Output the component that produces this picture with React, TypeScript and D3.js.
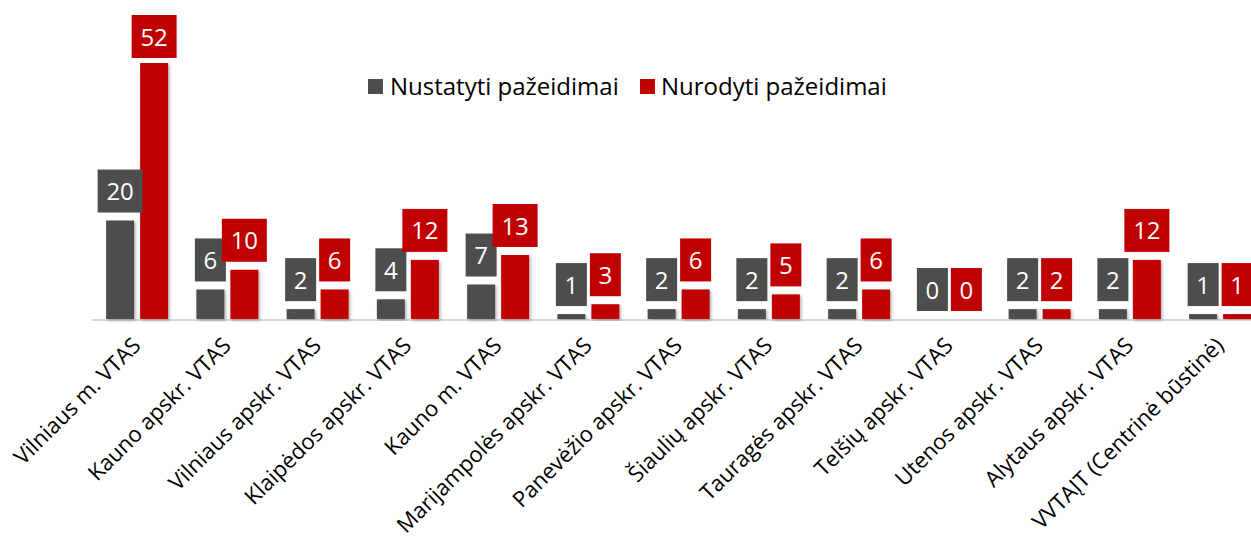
import * as d3 from "d3";
import React from "react";

// data
const categories = [
  "Vilniaus m. VTAS",
  "Kauno apskr. VTAS",
  "Vilniaus apskr. VTAS",
  "Klaipėdos apskr. VTAS",
  "Kauno m. VTAS",
  "Marijampolės apskr. VTAS",
  "Panevėžio apskr. VTAS",
  "Šiaulių apskr. VTAS",
  "Tauragės apskr. VTAS",
  "Telšių apskr. VTAS",
  "Utenos apskr. VTAS",
  "Alytaus apskr. VTAS",
  "VVTAĮT (Centrinė būstinė)",
];
const nustatyti = [20, 6, 2, 4, 7, 1, 2, 2, 2, 0, 2, 2, 1];
const nurodyti = [52, 10, 6, 12, 13, 3, 6, 5, 6, 0, 2, 12, 1];
const seriesNames = ["Nustatyti pažeidimai", "Nurodyti pažeidimai"];
const colors = ["#4d4d4d", "#c00000"];

const W = 1251;
const H = 539;
const FONT = "'Open Sans', sans-serif";

const App = () => {
  const baseY = 319;
  const x0 = d3
    .scaleBand<string>()
    .domain(categories)
    .range([92, 92 + 13 * 90.25])
    .paddingInner(0.313)
    .paddingOuter(0.1565);
  const x1 = d3
    .scaleBand<number>()
    .domain([0, 1])
    .range([0, x0.bandwidth()])
    .paddingInner(0.176);
  const y = d3
    .scaleLinear()
    .domain([0, d3.max(nurodyti) as number])
    .range([baseY, 63]);

  const series = [nustatyti, nurodyti];
  const boxH = 43;

  return (
    <svg
      width={W}
      height={H}
      style={{ position: "absolute", left: 0, top: 0, background: "#fff" }}
      fontFamily={FONT}
    >
      <defs>
        <filter id="shadow" x="-30%" y="-10%" width="160%" height="120%">
          <feDropShadow dx="1.5" dy="1.5" stdDeviation="1.5" floodColor="#000" floodOpacity="0.3" />
        </filter>
      </defs>

      {/* axis line */}
      <line x1={92} x2={W} y1={baseY + 1} y2={baseY + 1} stroke="#d9d9d9" strokeWidth={2} />

      {/* bars */}
      {series.map((vals, si) =>
        vals.map((v, i) => {
          if (v === 0) return null;
          const bx = (x0(categories[i]) as number) + (x1(si) as number);
          return (
            <rect
              key={`b${si}-${i}`}
              x={bx}
              y={y(v)}
              width={x1.bandwidth()}
              height={baseY - y(v)}
              fill={colors[si]}
              filter="url(#shadow)"
            />
          );
        })
      )}

      {/* data labels */}
      {series.map((vals, si) =>
        vals.map((v, i) => {
          const cx = (x0(categories[i]) as number) + (x1(si) as number) + x1.bandwidth() / 2;
          const bw = String(v).length > 1 ? 45 : 31;
          let top = y(v) - 8 - boxH;
          if (top < 15) top = 15;
          return (
            <g key={`l${si}-${i}`}>
              <rect x={cx - bw / 2} y={top} width={bw} height={boxH} fill={colors[si]} />
              <text
                x={cx}
                y={top + boxH / 2 + 9}
                textAnchor="middle"
                fill="#fff"
                fontSize={24}
              >
                {v}
              </text>
            </g>
          );
        })
      )}

      {/* category labels */}
      {categories.map((c, i) => {
        const cx = (x0(c) as number) + x0.bandwidth() / 2;
        return (
          <text
            key={c}
            transform={`translate(${cx + 5},${baseY + 28}) rotate(-45)`}
            textAnchor="end"
            fontSize={22}
            fill="#000"
          >
            {c}
          </text>
        );
      })}

      {/* legend */}
      <g>
        <rect x={368} y={79} width={15} height={15} fill={colors[0]} />
        <text x={390} y={95} fontSize={24} fill="#000">
          {seriesNames[0]}
        </text>
        <rect x={640} y={79} width={15} height={15} fill={colors[1]} />
        <text x={661} y={95} fontSize={24} fill="#000">
          {seriesNames[1]}
        </text>
      </g>
    </svg>
  );
};

export default App;
